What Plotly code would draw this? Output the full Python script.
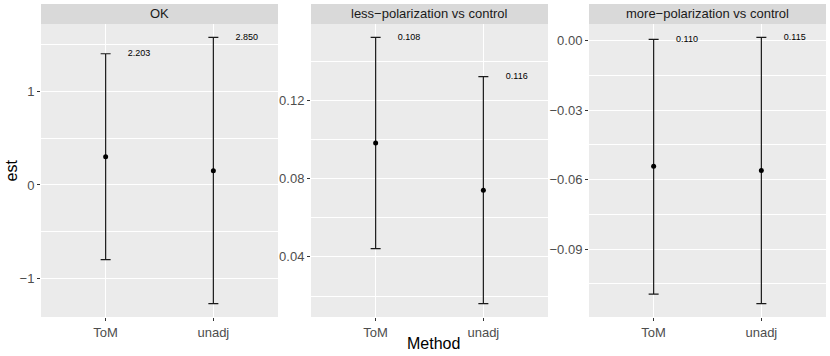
import plotly.graph_objects as go

methods = ["ToM", "unadj"]
panels = ["OK", "less\u2212polarization vs control", "more\u2212polarization vs control"]

est_ok = [0.303, 0.153]
lo_ok = [-0.799, -1.270]
hi_ok = [1.404, 1.580]

est_less = [0.0982, 0.0740]
lo_less = [0.0442, 0.0161]
hi_less = [0.1522, 0.1321]

est_more = [-0.0543, -0.0561]
lo_more = [-0.1095, -0.1136]
hi_more = [0.0005, 0.0014]

ci_labels = [["2.203", "2.850"], ["0.108", "0.116"], ["0.110", "0.115"]]

major_ticks = [[-1, 0, 1], [0.04, 0.08, 0.12], [-0.09, -0.06, -0.03, 0.0]]
minor_ticks = [[-1.5, -0.5, 0.5, 1.5], [0.02, 0.06, 0.10, 0.14], [-0.105, -0.075, -0.045, -0.015]]
tick_fmt = ["d", ".2f", ".2f"]

W, H = 830, 356
panel_px = [(41, 278), (311, 548), (589, 826)]
plot_top, plot_bot, strip_top = 24, 317, 4

data = [(est_ok, lo_ok, hi_ok), (est_less, lo_less, hi_less), (est_more, lo_more, hi_more)]

fig = go.Figure()
xpos = list(range(len(methods)))

for i, (est, lo, hi) in enumerate(data):
    n = "" if i == 0 else str(i + 1)
    xa, ya = "x" + n, "y" + n
    fig.add_trace(go.Scatter(
        x=xpos, y=est, xaxis=xa, yaxis=ya, mode="markers",
        marker=dict(color="black", size=5),
        error_y=dict(type="data", symmetric=False,
                     array=[h - e for h, e in zip(hi, est)],
                     arrayminus=[e - l for e, l in zip(est, lo)],
                     color="#1A1A1A", thickness=1.2, width=5),
        showlegend=False, hoverinfo="skip"))
    fig.add_trace(go.Scatter(
        x=[x + 0.31 for x in xpos], y=hi, xaxis=xa, yaxis=ya, mode="text",
        text=ci_labels[i], textposition="middle center",
        textfont=dict(size=9, color="black", family="Liberation Sans"),
        showlegend=False, hoverinfo="skip"))

    vmin, vmax = min(lo), max(hi)
    pad = (vmax - vmin) * 0.05
    x0, x1 = panel_px[i]
    fig.layout["xaxis" + n] = dict(
        domain=[x0 / W, x1 / W], anchor=ya, range=[-0.6, 1.6],
        tickvals=xpos, ticktext=methods, showgrid=True, gridcolor="white",
        gridwidth=1.2, zeroline=False, ticks="outside", ticklen=3,
        tickcolor="#333333", tickfont=dict(size=13, color="#4D4D4D"),
        showline=False, fixedrange=True)
    fig.layout["yaxis" + n] = dict(
        domain=[(H - plot_bot) / H, (H - plot_top) / H], anchor=xa,
        range=[vmin - pad, vmax + pad], tickvals=major_ticks[i],
        tickformat=tick_fmt[i], showgrid=True, gridcolor="white",
        gridwidth=1.2, zeroline=False, ticks="outside", ticklen=3,
        tickcolor="#333333", tickfont=dict(size=13, color="#4D4D4D"),
        minor=dict(tickvals=minor_ticks[i], showgrid=True,
                   gridcolor="white", gridwidth=0.6, ticks=""),
        showline=False, fixedrange=True)

    # panel background and strip
    fig.add_shape(type="rect", xref="paper", yref="paper",
                  x0=x0 / W, x1=x1 / W, y0=(H - plot_bot) / H, y1=(H - plot_top) / H,
                  fillcolor="#EBEBEB", line_width=0, layer="below")
    fig.add_shape(type="rect", xref="paper", yref="paper",
                  x0=x0 / W, x1=x1 / W, y0=(H - plot_top) / H, y1=(H - strip_top) / H,
                  fillcolor="#D9D9D9", line_width=0, layer="below")
    fig.add_annotation(text=panels[i], xref="paper", yref="paper",
                       x=(x0 + x1) / 2 / W, y=(H - (plot_top + strip_top) / 2) / H,
                       showarrow=False, font=dict(size=13, color="#1A1A1A"),
                       xanchor="center", yanchor="middle")

fig.add_annotation(text="est", xref="paper", yref="paper", x=11 / W,
                   y=(H - (plot_top + plot_bot) / 2) / H, textangle=-90,
                   showarrow=False, font=dict(size=16, color="black"),
                   xanchor="center", yanchor="middle")
fig.add_annotation(text="Method", xref="paper", yref="paper",
                   x=(panel_px[0][0] + panel_px[2][1]) / 2 / W, y=(H - 343) / H,
                   showarrow=False, font=dict(size=16, color="black"),
                   xanchor="center", yanchor="middle")

fig.update_layout(
    width=W, height=H, margin=dict(l=0, r=0, t=0, b=0),
    paper_bgcolor="white", plot_bgcolor="rgba(0,0,0,0)",
    font=dict(family="Liberation Sans, Arial, sans-serif"),
)

fig.write_html("out.html", config={"displayModeBar": False},
               post_script="document.body.style.margin='0';")
